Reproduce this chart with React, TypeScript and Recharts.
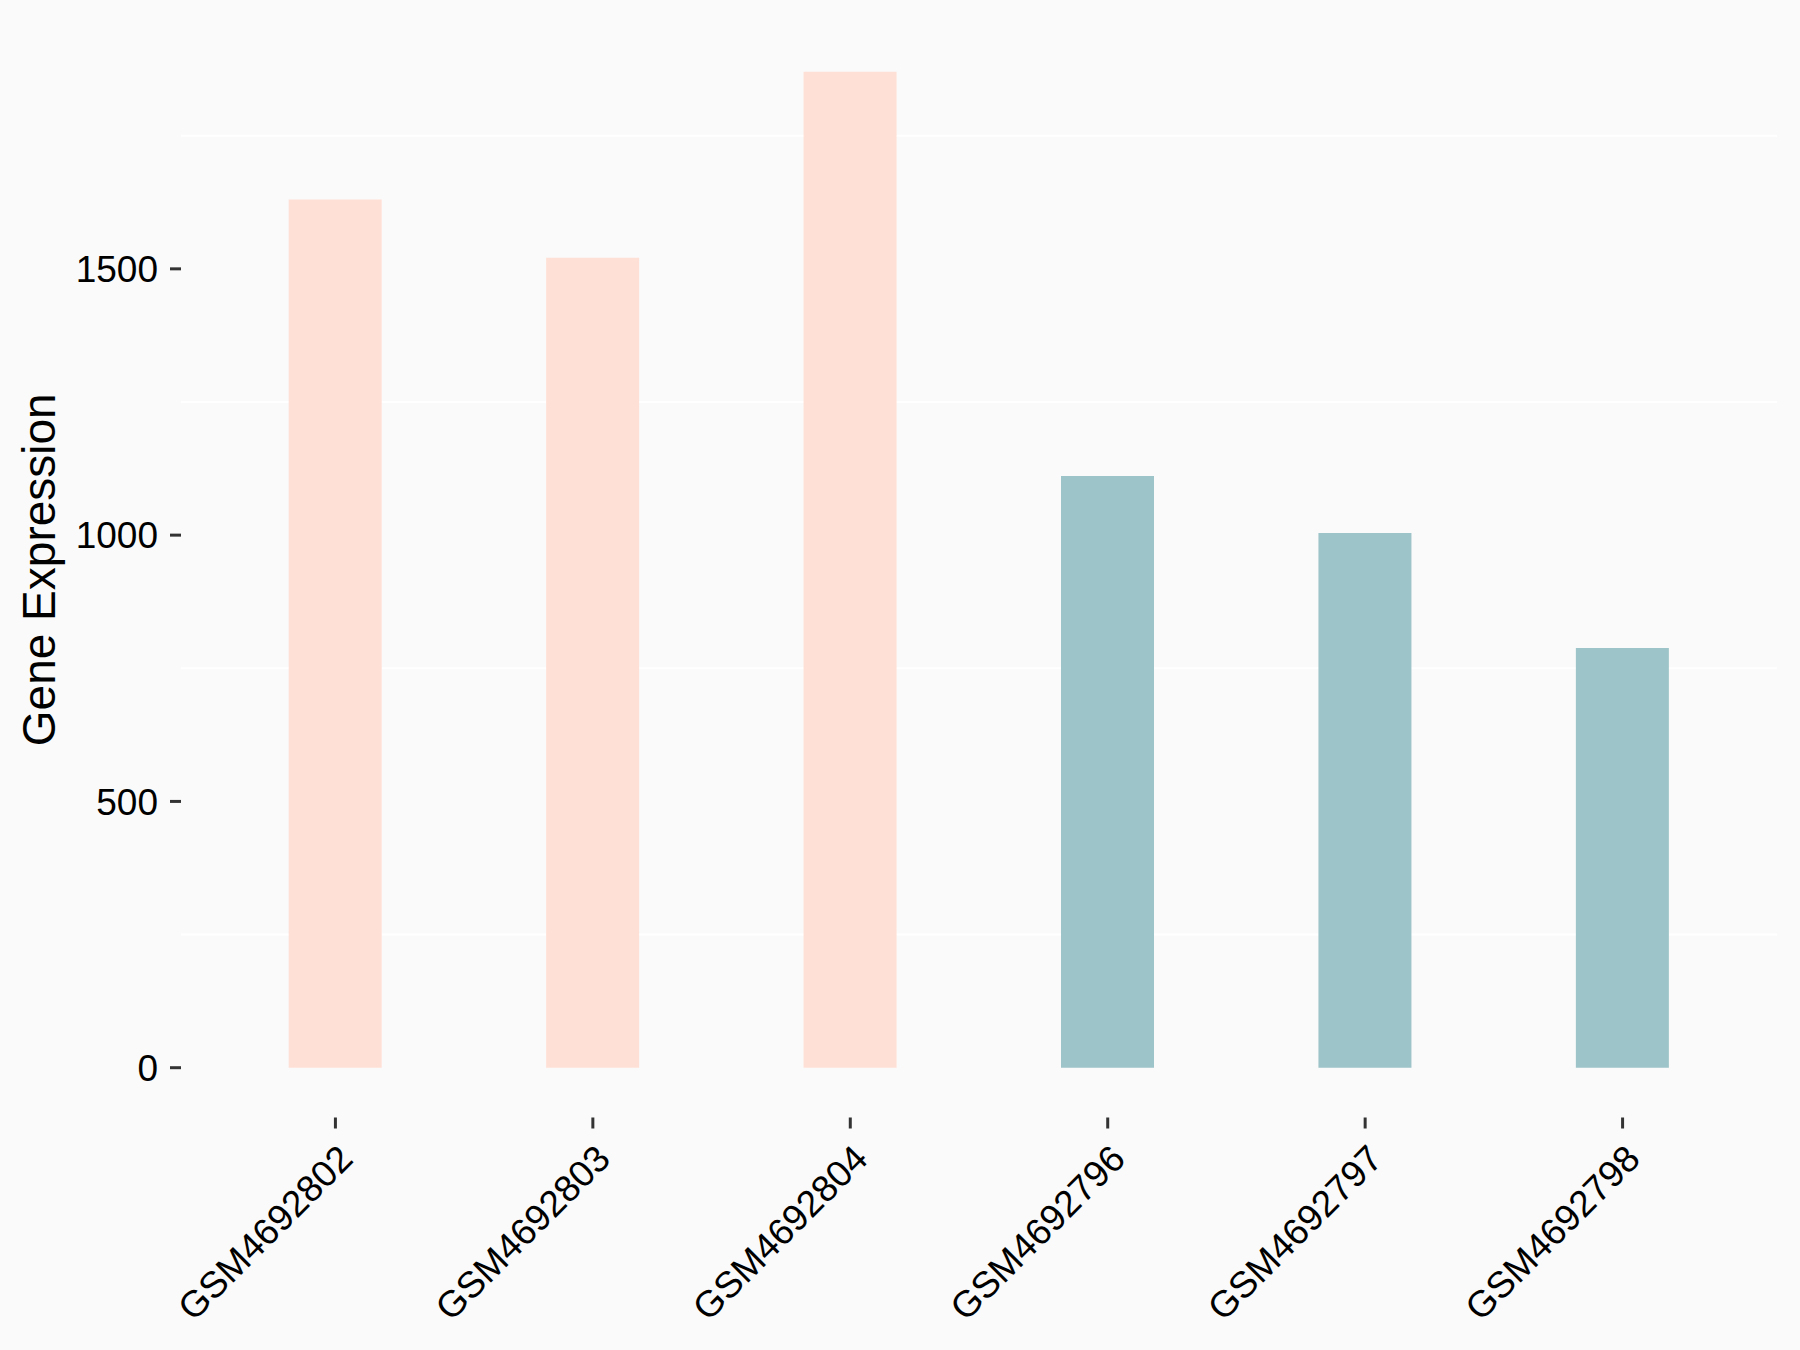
import { BarChart, Bar, XAxis, YAxis, CartesianGrid, Cell, Label } from 'recharts'

const samples = ['GSM4692802', 'GSM4692803', 'GSM4692804', 'GSM4692796', 'GSM4692797', 'GSM4692798']
const expression = [1630, 1521, 1870, 1111, 1004, 788]
const groups = ['case', 'case', 'case', 'control', 'control', 'control']
const yTicks = [0, 500, 1000, 1500]
const minorGrid = [250, 750, 1250, 1750]

const groupColors: Record<string, string> = { case: '#FFE0D6', control: '#9DC4C8' }

const FONT = '"Liberation Sans", Arial, Helvetica, sans-serif'

const data = samples.map((s, i) => ({ sample: s, value: expression[i], group: groups[i] }))

// ggplot-like 5% expansion on the continuous axis
const maxVal = Math.max(...expression)
const pad = maxVal * 0.05
const yDomain: [number, number] = [-pad, maxVal + pad]

function XTick({ x, y, payload }: any) {
  return (
    <g transform={`translate(${x + 19.5},${y + 30.5})`}>
      <text textAnchor="end" transform="rotate(-45)" fontSize={37} fill="#000" fontFamily={FONT}>
        {payload.value}
      </text>
    </g>
  )
}

function YTitle({ viewBox }: any) {
  const cx = viewBox.x + 55
  const cy = viewBox.y + viewBox.height / 2
  return (
    <text
      x={cx}
      y={cy}
      textAnchor="middle"
      transform={`rotate(-90, ${cx}, ${cy})`}
      fontSize={46}
      fill="#000"
      fontFamily={FONT}
    >
      Gene Expression
    </text>
  )
}

export default function App() {
  return (
    <div style={{ position: 'absolute', left: 0, top: 0, width: 1800, height: 1350, background: '#FAFAFA' }}>
      <BarChart
        width={1800}
        height={1350}
        data={data}
        margin={{ top: 22, right: 23, bottom: 0, left: 0 }}
        style={{ fontFamily: FONT }}
      >
        <CartesianGrid vertical={false} horizontalValues={minorGrid} stroke="#FFFFFF" strokeWidth={2} />
        <XAxis
          dataKey="sample"
          interval={0}
          height={232.5}
          padding={{ left: 25.7, right: 25.7 }}
          axisLine={false}
          tickSize={11}
          tickLine={{ stroke: '#333333', strokeWidth: 3 }}
          tick={<XTick />}
        />
        <YAxis
          type="number"
          domain={yDomain}
          ticks={yTicks}
          allowDataOverflow
          width={181}
          axisLine={false}
          tickSize={11}
          tickMargin={12}
          tickLine={{ stroke: '#333333', strokeWidth: 3 }}
          tick={{ fontSize: 37, fill: '#000', fontFamily: FONT }}
        >
          <Label content={YTitle} />
        </YAxis>
        <Bar dataKey="value" barSize={93} isAnimationActive={false}>
          {data.map((d, i) => (
            <Cell key={i} fill={groupColors[d.group]} />
          ))}
        </Bar>
      </BarChart>
    </div>
  )
}
